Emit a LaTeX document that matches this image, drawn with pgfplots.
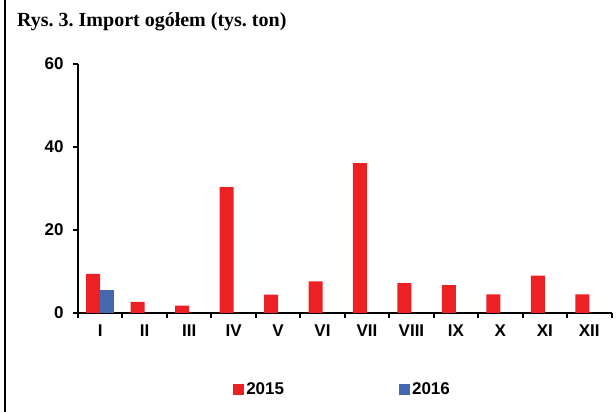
\documentclass[border=0pt]{standalone}
\usepackage{pgfplots}
\pgfplotsset{compat=1.18}
\usepackage{fontspec}
\setmainfont{Liberation Sans}
\newfontfamily\titlefont{Liberation Serif}
\definecolor{cred}{HTML}{ED2024}
\definecolor{cblue}{HTML}{4468B0}
\frenchspacing
\begin{document}
\begin{tikzpicture}
\path[use as bounding box] (0pt,0pt) rectangle (616pt,412pt);
\draw[line width=2pt] (5pt,0pt) -- (5pt,412pt);
\node[anchor=base west, inner sep=0pt, font=\titlefont\bfseries\fontsize{20}{22}\selectfont] at (17pt,385pt) {Rys. 3. Import ogółem (tys. ton)};
\begin{axis}[
  at={(78pt,99pt)}, anchor=south west,
  scale only axis, width=533.5pt, height=249.3pt,
  xmin=0.5, xmax=12.5, ymin=0, ymax=60,
  axis x line*=bottom, axis y line*=left,
  axis line style={line width=2.5pt, black},
  ytick={0,20,40,60},
  xtick={0.5,1.5,...,12.5},
  xticklabels={},
  extra x ticks={1,...,12},
  extra x tick labels={I,II,III,IV,V,VI,VII,VIII,IX,X,XI,XII},
  extra x tick style={major tick length=0pt, tick style={draw=none}},
  tick style={line width=2pt, black},
  tick align=outside,
  major tick length=5pt,
  ticklabel style={font=\bfseries\fontsize{17}{20}\selectfont},
  /pgf/number format/assume math mode=true,
  xticklabel style={yshift=-8pt},
  yticklabel style={xshift=-6pt},
  ybar, bar width=14pt,
  legend style={at={(0.285,-0.308)}, anchor=west, draw=none, fill=none,
    font=\bfseries\fontsize{17}{20}\selectfont, legend columns=2,
    /tikz/every even column/.append style={column sep=113pt}},
  legend image code/.code={\fill[#1] (0pt,-5.5pt) rectangle (11pt,5.5pt);},
]
\addplot[fill=cred, draw=none, bar shift=-7pt] coordinates {
(1,9.4) (2,2.7) (3,1.8) (4,30.3) (5,4.4) (6,7.6) (7,36.1) (8,7.2) (9,6.7) (10,4.5) (11,9.0) (12,4.5)};
\addplot[fill=cblue, draw=none, bar shift=7pt] coordinates {(1,5.5)};
\legend{2015,2016}
\end{axis}
\end{tikzpicture}
\end{document}
